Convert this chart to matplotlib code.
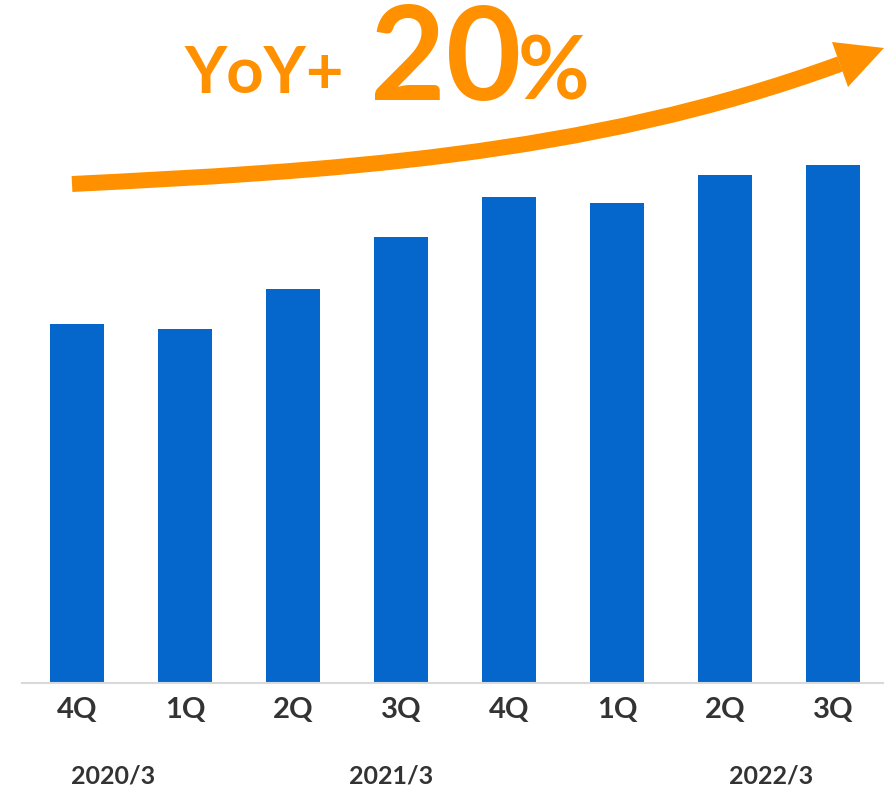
import matplotlib
matplotlib.use("Agg")
import matplotlib.pyplot as plt
from matplotlib.path import Path
from matplotlib.patches import PathPatch, Polygon
from matplotlib.transforms import Affine2D, blended_transform_factory

# ---- data ----
quarters = ["4Q", "1Q", "2Q", "3Q", "4Q", "1Q", "2Q", "3Q"]
values = [359, 354, 394, 446, 486, 480, 508, 518]
year_labels = ["2020/3", "2021/3", "2022/3"]
year_label_x = [0.33, 2.91, 6.43]
headline_prefix = "YoY+"
headline_number = "20"
headline_unit = "%"

BAR = "#0566CB"
ORANGE = "#FF9100"
TXT = "#333333"

W, H = 884, 789
fig = plt.figure(figsize=(W / 100, H / 100), dpi=100)
plt.rcParams["font.family"] = ["Lato", "DejaVu Sans"]

ax = fig.add_axes([22 / W, 106 / H, 862 / W, 683 / H])
x = list(range(len(values)))
ax.bar(x, values, width=0.5, color=BAR, zorder=2)
ax.set_xlim(-0.509, len(values) - 1 + 0.472)
ax.set_ylim(0, 683)
for s in ["top", "right", "left"]:
    ax.spines[s].set_visible(False)
ax.spines["bottom"].set_color("#D9D9D9")
ax.spines["bottom"].set_linewidth(1.5)
ax.set_yticks([])
ax.set_xticks(x)
ax.set_xticklabels(quarters, fontsize=21, fontweight="bold", color=TXT)
ax.tick_params(axis="x", length=0, pad=10)

# year labels
tb = blended_transform_factory(ax.transData, fig.transFigure)
for lbl, xp in zip(year_labels, year_label_x):
    ax.text(xp, 1 - 784 / H, lbl, transform=tb, ha="center", va="baseline",
            fontsize=18, fontweight="bold", color=TXT)

# pixel transform (y down) for decorations
px = Affine2D().scale(1 / W, -1 / H).translate(0, 1) + fig.transFigure

# curved arrow shaft (cubic bezier)
verts = [(72, 184), (322, 171.5), (585, 157.5), (840, 64)]
codes = [Path.MOVETO, Path.CURVE4, Path.CURVE4, Path.CURVE4]
shaft = PathPatch(Path(verts, codes), transform=px, facecolor="none",
                  edgecolor=ORANGE, linewidth=11.5, capstyle="butt")
fig.add_artist(shaft)
head = Polygon([(832, 42), (884, 48), (848, 87)], closed=True, transform=px,
               facecolor=ORANGE, edgecolor="none")
fig.add_artist(head)

# headline text
fig.text(184 / W, 1 - 93 / H, headline_prefix, fontsize=47, fontweight="bold",
         color=ORANGE, ha="left", va="baseline")
fig.text(370 / W, 1 - 100 / H, headline_number, fontsize=94, fontweight="bold",
         color=ORANGE, ha="left", va="baseline")
fig.text(518 / W, 1 - 100 / H, headline_unit, fontsize=63, fontweight="bold",
         color=ORANGE, ha="left", va="baseline")

fig.savefig("out.png", dpi=100)
